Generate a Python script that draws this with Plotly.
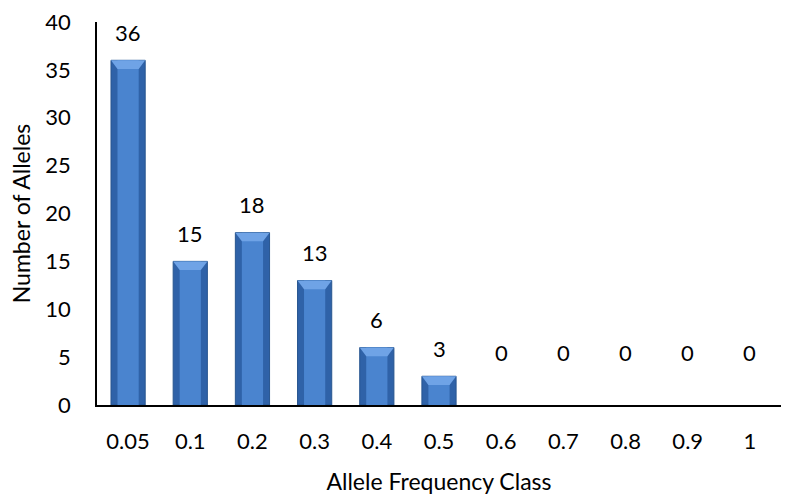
import plotly.graph_objects as go

# Allele frequency distribution
categories = ["0.05", "0.1", "0.2", "0.3", "0.4", "0.5", "0.6", "0.7", "0.8", "0.9", "1"]
counts = [36, 15, 18, 13, 6, 3, 0, 0, 0, 0, 0]
y_ticks = [0, 5, 10, 15, 20, 25, 30, 35, 40]

FONT = "Lato, 'Open Sans', sans-serif"
TICK_SIZE = 22
TITLE_SIZE = 23
BAR_W = 0.55

xs = list(range(len(categories)))
edge_w = [1 if v > 0 else 0 for v in counts]

fig = go.Figure()

# Outer bar body (darker edge)
fig.add_trace(go.Bar(
    x=xs, y=counts, width=BAR_W,
    marker=dict(color="#2F62A8", line=dict(color="#27558F", width=edge_w)),
    hoverinfo="x+y", showlegend=False,
))
# Inner lighter face for a bevelled look
fig.add_trace(go.Bar(
    x=xs, y=counts, width=BAR_W * 0.62,
    marker=dict(color="#4A84CF", line=dict(width=0)),
    hoverinfo="skip", showlegend=False,
))

# Light top cap on each bar (bevel highlight)
cap = 0.9
for i, v in enumerate(counts):
    if v <= 0:
        continue
    h = min(cap, v * 0.4)
    x0, x1 = i - BAR_W / 2, i + BAR_W / 2
    xi0, xi1 = i - BAR_W * 0.31, i + BAR_W * 0.31
    fig.add_shape(
        type="path", xref="x", yref="y",
        path=f"M {x0} {v} L {x1} {v} L {xi1} {v - h} L {xi0} {v - h} Z",
        fillcolor="#6FA3E6", line=dict(width=0), layer="above",
    )

# Value labels
for i, v in enumerate(counts):
    fig.add_annotation(
        x=i, y=v, text=str(v), showarrow=False,
        yshift=28 if v > 0 else 53,
        font=dict(family=FONT, size=TICK_SIZE, color="#000000"),
    )

fig.update_layout(
    width=785, height=495,
    margin=dict(l=97, r=4, t=22, b=90),
    paper_bgcolor="white", plot_bgcolor="white",
    barmode="overlay",
    font=dict(family=FONT, size=TICK_SIZE, color="#000000"),
    xaxis=dict(
        tickmode="array", tickvals=xs, ticktext=categories,
        range=[-0.5, len(categories) - 0.5],
        showline=True, linecolor="#000000", linewidth=2,
        showgrid=False, zeroline=False, ticks="",
        ticklabelstandoff=16,
        title=dict(text="Allele Frequency Class", font=dict(family=FONT, size=TITLE_SIZE), standoff=20),
    ),
    yaxis=dict(
        range=[0, 40], tickvals=y_ticks,
        showline=True, linecolor="#000000", linewidth=1.5,
        showgrid=False, zeroline=False, ticks="",
        ticklabelstandoff=20,
        title=dict(text="Number of Alleles", font=dict(family=FONT, size=TITLE_SIZE), standoff=8),
    ),
)

fig.write_html("out.html")
